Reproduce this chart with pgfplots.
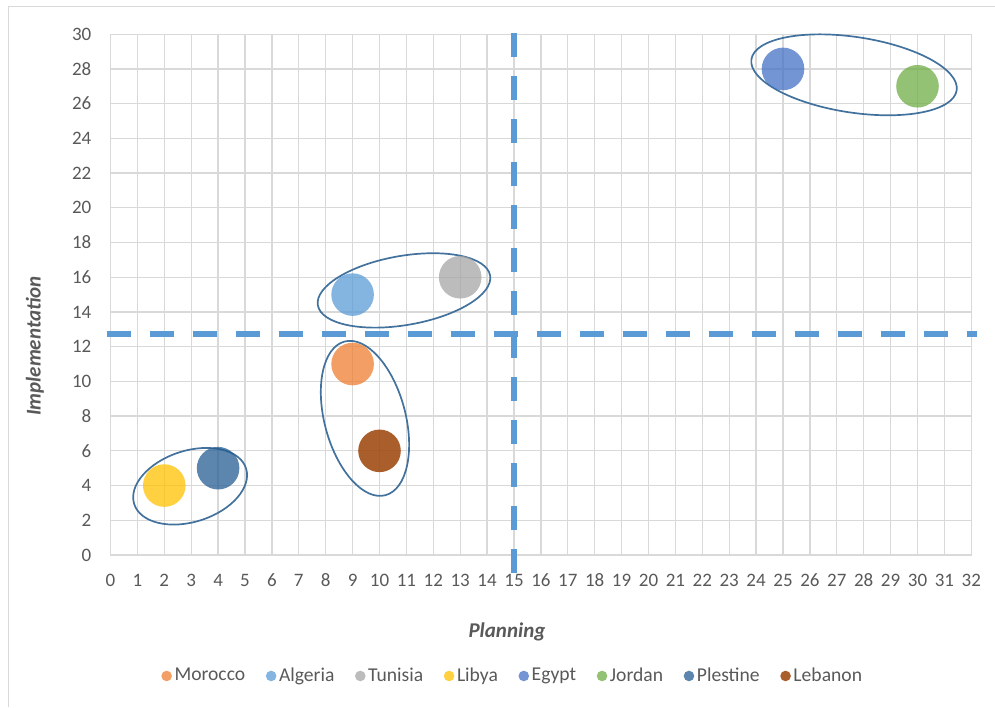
\documentclass[border=0pt]{standalone}
\usepackage{fontspec}
\setmainfont{Carlito}
\usepackage{pgfplots}
\pgfplotsset{compat=1.18}
\definecolor{cMor}{HTML}{ED7D31}
\definecolor{cAlg}{HTML}{5B9BD5}
\definecolor{cTun}{HTML}{A5A5A5}
\definecolor{cLib}{HTML}{FFC000}
\definecolor{cEgy}{HTML}{4472C4}
\definecolor{cJor}{HTML}{70AD47}
\definecolor{cPle}{HTML}{255E91}
\definecolor{cLeb}{HTML}{9E480E}
\definecolor{gridgray}{HTML}{D9D9D9}
\definecolor{tickgray}{HTML}{595959}
\definecolor{dashblue}{HTML}{5B9BD5}
\definecolor{ellcol}{HTML}{41719C}
\pgfplotsset{
  bubble/.style={forget plot, only marks, mark=*, mark size=10.65pt, color=#1, draw opacity=0, fill opacity=0.75},
  legbub/.style={only marks, mark=*, mark size=2.65pt, color=#1, draw opacity=0, fill opacity=0.75},
}
\begin{document}
\begin{tikzpicture}
\begin{axis}[
  x=13.45pt, y=8.68pt,
  xmin=0, xmax=32, ymin=0, ymax=30,
  enlargelimits=false, clip=false,
  xtick={0,1,...,32}, ytick={0,2,...,30},
  major tick length=0pt,
  grid=major,
  major grid style={draw=gridgray, line width=0.65pt},
  axis line style={draw=gridgray, line width=0.65pt},
  tick label style={font=\fontsize{9.5}{11}\selectfont, text=tickgray},
  /pgf/number format/assume math mode=true,
  xticklabel style={anchor=center, yshift=-12.5pt},
  yticklabel style={anchor=east, inner sep=0pt, xshift=-9.4pt},
  xlabel={\textbf{\textit{Planning}}},
  ylabel={\textbf{\textit{Implementation}}},
  label style={font=\fontsize{10.5}{12}\selectfont, text=tickgray},
  xlabel style={at={(axis description cs:0.4606,-0.148)}, anchor=center},
  ylabel style={at={(axis description cs:-0.0878,0.401)}, anchor=center, rotate=0},
  legend style={draw=none, fill=none, at={(axis description cs:0.4676,-0.2323)}, anchor=center,
    font=\fontsize{9.8}{11}\selectfont, text=tickgray,
    nodes={inner sep=1.3pt},
    /tikz/every even column/.append style={column sep=9pt}},
  legend columns=-1,
  legend image code/.code={\draw[mark repeat=2,mark phase=2] plot coordinates {(0pt,0pt) (2.7pt,0pt) (5.4pt,0pt)};},
]
% bubbles
\addplot[bubble=cMor] coordinates {(9,11)};
\addplot[bubble=cAlg] coordinates {(9,15)};
\addplot[bubble=cTun] coordinates {(13,16)};
\addplot[bubble=cLib] coordinates {(2,4)};
\addplot[bubble=cEgy] coordinates {(25,28)};
\addplot[bubble=cJor] coordinates {(30,27)};
\addplot[bubble=cPle] coordinates {(4,5)};
\addplot[bubble=cLeb, fill opacity=0.88] coordinates {(10,6)};
% dashed reference lines
\addplot[forget plot, no marks, draw=dashblue, line width=3pt, dash pattern=on 12pt off 9.5pt] coordinates {(15,30.05) (15,-1.15)};
\addplot[forget plot, no marks, draw=dashblue, line width=3pt, dash pattern=on 12pt off 9.5pt] coordinates {(-0.14,12.75) (32.21,12.75)};
% group ellipses
\draw[ellcol, line width=0.85pt] (axis cs:27.64,27.66) ellipse [x radius=51.9pt, y radius=18.9pt, rotate=-8.6];
\draw[ellcol, line width=0.85pt] (axis cs:10.91,15.24) ellipse [x radius=43.7pt, y radius=17.3pt, rotate=9.8];
\draw[ellcol, line width=0.85pt] (axis cs:9.46,7.87) ellipse [x radius=39.75pt, y radius=20.25pt, rotate=104.9];
\draw[ellcol, line width=0.85pt] (axis cs:2.96,3.96) ellipse [x radius=29.35pt, y radius=17.8pt, rotate=17.7];
% legend images
\addlegendimage{legbub=cMor}
\addlegendimage{legbub=cAlg}
\addlegendimage{legbub=cTun}
\addlegendimage{legbub=cLib}
\addlegendimage{legbub=cEgy}
\addlegendimage{legbub=cJor}
\addlegendimage{legbub=cPle}
\addlegendimage{legbub=cLeb, fill opacity=0.88}
\legend{Morocco, Algeria, Tunisia, Libya, Egypt, Jordan, Plestine, Lebanon}
% frame and bounding box anchors
\coordinate (bbl) at (axis cs:-4.108,-8.756);
\coordinate (btr) at (axis cs:32.881,31.970);
\draw[gridgray, line width=0.8pt] (axis cs:-3.799,-8.756) -- (axis cs:-3.799,31.584) -- (axis cs:32.881,31.584);
\end{axis}
\pgfresetboundingbox
\useasboundingbox (bbl) rectangle (btr);
\end{tikzpicture}
\end{document}
